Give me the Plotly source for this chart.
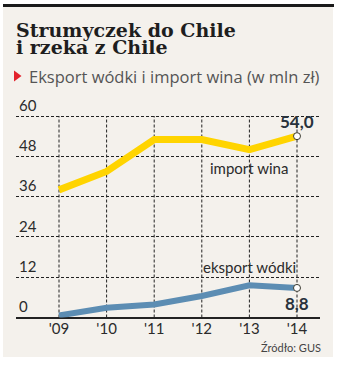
import plotly.graph_objects as go

# --- data -------------------------------------------------------------
years = [2009, 2010, 2011, 2012, 2013, 2014]
year_labels = ["'09", "'10", "'11", "'12", "'13", "'14"]
import_wina = [38.0, 43.5, 53.0, 53.0, 50.0, 54.0]
eksport_wodki = [0.6, 2.9, 3.9, 6.4, 9.6, 8.8]
y_ticks = [0, 12, 24, 36, 48, 60]

# --- canvas / layout helpers -------------------------------------------
W, H = 337, 368
BG = "#f4f1ec"
INK = "#2b2b2b"
GRID = "#222222"
YELLOW = "#ffd400"
BLUE = "#5c8db3"

# plot area in pixels
px_left, px_right = 16, 320      # horizontal grid span
px_first, px_last = 59, 297      # centre of first / last year
px_top, px_bottom = 90, 317.5    # top of plot area / value 0
px_per_unit = (317.5 - 116) / 60

per_year = (px_last - px_first) / (years[-1] - years[0])
x_range = [years[0] - (px_first - px_left) / per_year,
           years[-1] + (px_right - px_last) / per_year]
y_range = [0, (px_bottom - px_top) / px_per_unit]

fig = go.Figure()

fig.add_trace(go.Scatter(
    x=years, y=import_wina, mode="lines",
    line=dict(color=YELLOW, width=7), hoverinfo="skip", showlegend=False))
fig.add_trace(go.Scatter(
    x=years, y=eksport_wodki, mode="lines",
    line=dict(color=BLUE, width=6), hoverinfo="skip", showlegend=False))

# end-point markers
fig.add_trace(go.Scatter(
    x=[years[-1], years[-1]], y=[import_wina[-1], eksport_wodki[-1]],
    mode="markers", cliponaxis=False,
    marker=dict(size=7, color="white", line=dict(color="#3a3a30", width=1)),
    hoverinfo="skip", showlegend=False))

def fmt(v):
    return f"{v:.1f}".replace(".", ",")

annotations = [
    # value labels at the last point
    dict(x=years[-1], y=import_wina[-1], text=f"<b>{fmt(import_wina[-1])}</b>",
         showarrow=False, yshift=15, font=dict(family="Lato", size=17, color="#28323c")),
    dict(x=years[-1], y=eksport_wodki[-1], text=f"<b>{fmt(eksport_wodki[-1])}</b>",
         showarrow=False, yshift=-16, font=dict(family="Lato", size=17, color="#28323c")),
    # series names
    dict(x=2013, y=import_wina[4], text="import wina", showarrow=False, yshift=-18,
         font=dict(family="Lato", size=15, color=INK)),
    dict(x=2013, y=eksport_wodki[4], text="eksport wódki", showarrow=False, yshift=18,
         font=dict(family="Lato", size=15, color=INK)),
    # title
    dict(xref="paper", yref="paper", x=14 / W, y=1 - 30 / H, xanchor="left", yanchor="middle",
         text="<b>Strumyczek do Chile</b>", showarrow=False,
         font=dict(family="DejaVu Serif", size=19, color="#1e1e1e")),
    dict(xref="paper", yref="paper", x=14 / W, y=1 - 46.5 / H, xanchor="left", yanchor="middle",
         text="<b>i rzeka z Chile</b>", showarrow=False,
         font=dict(family="DejaVu Serif", size=19, color="#1e1e1e")),
    # subtitle
    dict(xref="paper", yref="paper", x=27 / W, y=1 - 76 / H, xanchor="left", yanchor="middle",
         text="Eksport wódki i import wina (w mln zł)", showarrow=False,
         font=dict(family="Open Sans", size=16.5, color="#555555")),
    # source
    dict(xref="paper", yref="paper", x=323 / W, y=1 - 347 / H, xanchor="right", yanchor="middle",
         text="Źródło: GUS", showarrow=False,
         font=dict(family="Lato", size=11, color="#444444")),
]

shapes = [
    # panel background and top rule
    dict(type="rect", xref="paper", yref="paper", x0=3 / W, x1=333 / W,
         y0=1 - 357 / H, y1=1 - 7 / H, fillcolor=BG, line=dict(width=0), layer="below"),
    dict(type="rect", xref="paper", yref="paper", x0=3 / W, x1=334 / W,
         y0=1 - 7 / H, y1=1 - 4 / H, fillcolor="#1a1a1a", line=dict(width=0)),
    # red marker before the subtitle
    dict(type="path", xref="paper", yref="paper",
         path=f"M {14 / W} {1 - 70.5 / H} L {21.5 / W} {1 - 76 / H} L {14 / W} {1 - 81.5 / H} Z",
         fillcolor="#e3222c", line=dict(width=0)),
]
# vertical dashed grid, one per year, from 0 up to the top tick
for yr in years:
    shapes.append(dict(type="line", xref="x", yref="y", x0=yr, x1=yr,
                       y0=y_ticks[0], y1=y_ticks[-1], layer="below",
                       line=dict(color=GRID, width=1, dash="3px,2px")))

fig.update_layout(
    width=W, height=H,
    margin=dict(l=0, r=0, t=0, b=0),
    paper_bgcolor="white", plot_bgcolor="rgba(0,0,0,0)",
    annotations=annotations, shapes=shapes,
    xaxis=dict(
        domain=[px_left / W, px_right / W], range=x_range,
        tickvals=years, ticktext=year_labels, ticks="",
        showgrid=False, zeroline=False, showline=False,
        tickfont=dict(family="Lato", size=15, color=INK),
    ),
    yaxis=dict(
        domain=[1 - px_bottom / H, 1 - px_top / H], range=y_range,
        tickvals=y_ticks, ticks="", ticklabelposition="inside top",
        showgrid=True, gridcolor=GRID, gridwidth=1, griddash="3px,2px",
        zeroline=True, zerolinecolor=GRID, zerolinewidth=1.5,
        showline=False,
        tickfont=dict(family="Lato", size=15, color=INK),
    ),
)

fig.write_html("out.html")
